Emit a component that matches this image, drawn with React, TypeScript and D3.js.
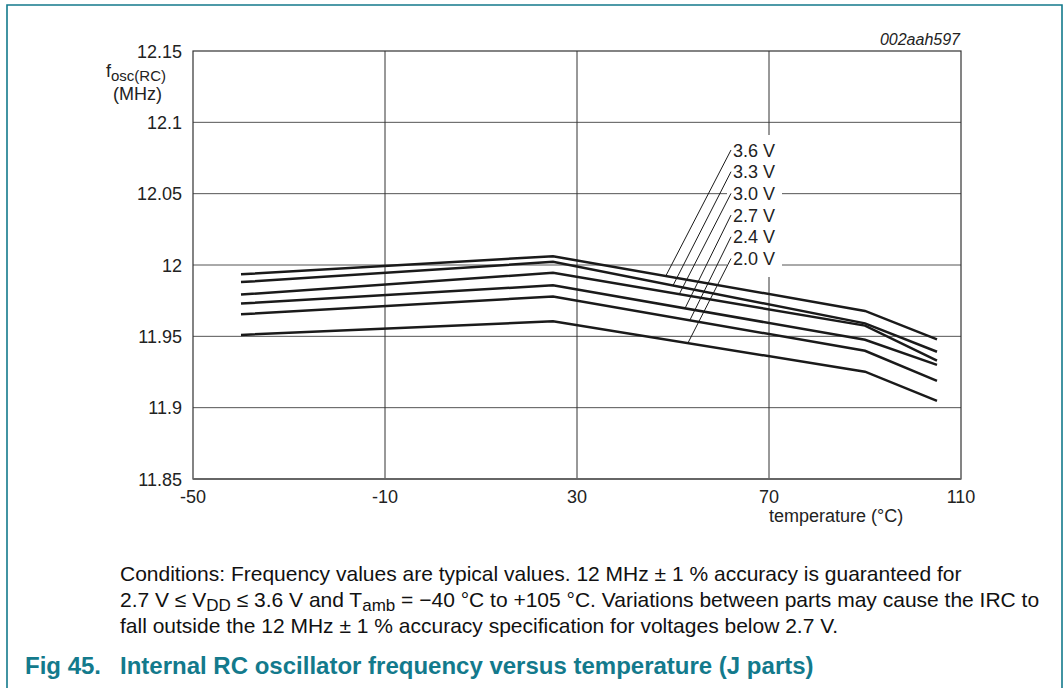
import React from "react";
import * as d3 from "d3";

const temps = [-40, 25, 90, 105];
const v36 = [11.9935, 12.0062, 11.9678, 11.9479];
const v33 = [11.988, 12.0022, 11.9591, 11.9392];
const v30 = [11.9793, 11.9945, 11.9575, 11.9329];
const v27 = [11.973, 11.9858, 11.9476, 11.93];
const v24 = [11.9654, 11.9779, 11.9399, 11.9188];
const v20 = [11.951, 11.9605, 11.9252, 11.9048];
const seriesNames = ["3.6 V", "3.3 V", "3.0 V", "2.7 V", "2.4 V", "2.0 V"];
const seriesValues = [v36, v33, v30, v27, v24, v20];
const leaderTemps = [48.5, 50, 51.3, 52.5, 53.5, 53.1];
const xTicks = [-50, -10, 30, 70, 110];
const yTicks = [11.85, 11.9, 11.95, 12, 12.05, 12.1, 12.15];

const W = 1063;
const H = 688;
const L = 193, R = 961, T = 51, B = 479;
const TEAL = "#137a8c";
const FONT = "'Liberation Sans', Arial, Helvetica, sans-serif";

export default function App() {
  const x = d3.scaleLinear().domain([-50, 110]).range([L, R]);
  const y = d3.scaleLinear().domain([11.85, 12.15]).range([B, T]);
  const line = d3
    .line<[number, number]>()
    .x((d) => x(d[0]))
    .y((d) => y(d[1]));

  const labelX = 733;
  const labelY0 = 150;
  const labelStep = 21.7;

  return (
    <svg
      width={W}
      height={H}
      style={{ position: "absolute", left: 0, top: 0, background: "#fff" }}
      fontFamily={FONT}
    >
      {/* frame border */}
      <path d={`M7,${H} V5 H1062 V${H}`} fill="none" stroke={TEAL} strokeWidth={1.6} />

      {/* grid */}
      {yTicks.slice(1, -1).map((t) => (
        <line key={"gy" + t} x1={L} x2={R} y1={y(t)} y2={y(t)} stroke="#555" strokeWidth={1} />
      ))}
      {xTicks.slice(1, -1).map((t) => (
        <line key={"gx" + t} x1={x(t)} x2={x(t)} y1={T} y2={B} stroke="#333" strokeWidth={1} />
      ))}
      <rect x={L} y={T} width={R - L} height={B - T} fill="none" stroke="#333" strokeWidth={1.2} />
      <line x1={L} x2={R} y1={B} y2={B} stroke="#666" strokeWidth={2} />

      {/* label background */}
      <rect x={727} y={135} width={55} height={142} fill="#fff" />

      {/* data lines */}
      {seriesValues.map((vals, i) => (
        <path
          key={"s" + i}
          d={line(temps.map((t, j) => [t, vals[j]]) as [number, number][]) || ""}
          fill="none"
          stroke="#1a1a1a"
          strokeWidth={2.5}
          strokeLinejoin="miter"
        />
      ))}

      {/* leaders and labels */}
      {seriesValues.map((vals, i) => {
        const interp = d3.scaleLinear().domain(temps).range(vals);
        const lt = leaderTemps[i];
        const ly = labelY0 + i * labelStep;
        return (
          <g key={"lab" + i}>
            <line
              x1={labelX - 2}
              y1={ly}
              x2={x(lt)}
              y2={y(interp(lt))}
              stroke="#1a1a1a"
              strokeWidth={1}
            />
            <text x={labelX} y={ly + 6.5} fontSize={18} fill="#222">
              {seriesNames[i]}
            </text>
          </g>
        );
      })}

      {/* y tick labels */}
      {yTicks.map((t) => (
        <text key={"yt" + t} x={182} y={y(t) + 6.5} fontSize={18} textAnchor="end" fill="#222">
          {d3.format("")(t)}
        </text>
      ))}
      {/* x tick labels */}
      {xTicks.map((t) => (
        <text key={"xt" + t} x={x(t)} y={503} fontSize={18} textAnchor="middle" fill="#222">
          {t}
        </text>
      ))}

      {/* axis titles */}
      <text x={106} y={77} fontSize={18} fill="#222">
        f<tspan fontSize={15} dy={4}>osc(RC)</tspan>
      </text>
      <text x={113} y={100} fontSize={18} fill="#222">
        (MHz)
      </text>
      <text x={769} y={522} fontSize={18} fill="#222">
        temperature (°C)
      </text>
      <text x={960} y={45} fontSize={16} fontStyle="italic" textAnchor="end" fill="#222">
        002aah597
      </text>

      {/* caption */}
      <text x={120} y={581} fontSize={21} fill="#111">
        Conditions: Frequency values are typical values. 12 MHz ± 1 % accuracy is guaranteed for
      </text>
      <text x={120} y={607} fontSize={21} fill="#111">
        2.7 V ≤ V<tspan fontSize={17} dy={4}>DD</tspan>
        <tspan dy={-4}> ≤ 3.6 V and T</tspan>
        <tspan fontSize={17} dy={4}>amb</tspan>
        <tspan dy={-4}> = −40 °C to +105 °C. Variations between parts may cause the IRC to</tspan>
      </text>
      <text x={120} y={633} fontSize={21} fill="#111">
        fall outside the 12 MHz ± 1 % accuracy specification for voltages below 2.7 V.
      </text>

      {/* figure title */}
      <text x={25} y={674} fontSize={24} fontWeight="bold" fill={TEAL}>
        Fig 45.
      </text>
      <text x={120} y={674} fontSize={24} fontWeight="bold" fill={TEAL}>
        Internal RC oscillator frequency versus temperature (J parts)
      </text>
    </svg>
  );
}
